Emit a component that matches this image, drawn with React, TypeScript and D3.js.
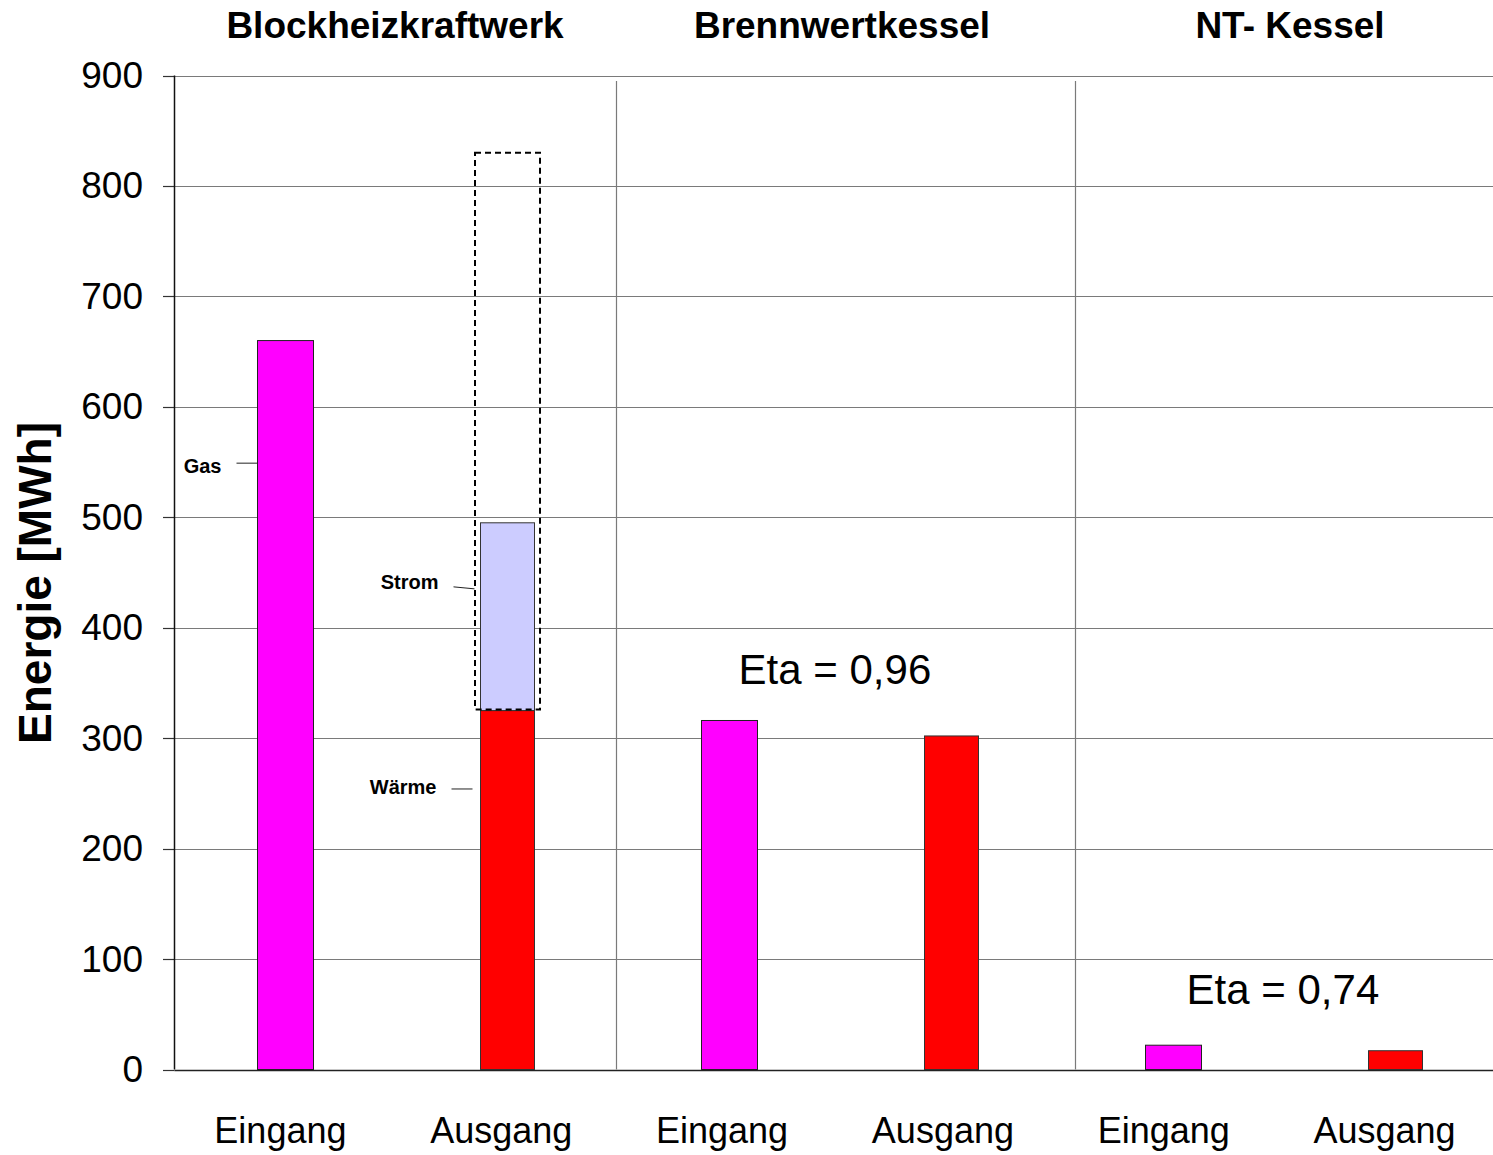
import React from "react";
import * as d3 from "d3";

const categories = ["BHKW Eingang", "BHKW Ausgang", "BWK Eingang", "BWK Ausgang", "NT Eingang", "NT Ausgang"];
const categoryLabels = ["Eingang", "Ausgang", "Eingang", "Ausgang", "Eingang", "Ausgang"];
const groupTitles = ["Blockheizkraftwerk", "Brennwertkessel", "NT- Kessel"];
const waermeValues = [0, 325, 0, 302, 0, 17];
const gasValues = [660, 0, 316, 0, 22, 0];
const stromValues = [0, 170, 0, 0, 0, 0];
const dashedBox = { category: "BHKW Ausgang", from: 326, to: 830 };
const yTicks = [0, 100, 200, 300, 400, 500, 600, 700, 800, 900];
const dividerPositions = [1.99, 4.056]; // in band units
const etaLabels = [
  { text: "Eta = 0,96", pos: 2.975, value: 362 },
  { text: "Eta = 0,74", pos: 4.993, value: 72 },
];
const sideLabels = [
  { text: "Gas", category: "BHKW Eingang", value: 549, textValue: 546 },
  { text: "Strom", category: "BHKW Ausgang", value: 437, textValue: 441 },
  { text: "Wärme", category: "BHKW Ausgang", value: 254, textValue: 256 },
];

const W = 1493;
const H = 1155;
const left = 174.5;
const FONT = "Liberation Sans, Arial, Helvetica, sans-serif";

export default function App() {
  const x = d3.scaleBand<string>().domain(categories).range([left, left + 6 * 222]).padding(0);
  const step = x.step();
  const xc = (c: string) => (x(c) as number) + step / 2;
  const xl = d3.scaleBand<string>().domain(d3.range(6).map(String)).range([170, 1495]);
  const xu = d3.scaleLinear().domain([0, 6]).range([left, left + 6 * 222]);
  const y = d3.scaleLinear().domain([0, 900]).range([1069.5, 75.5]);
  const barW = 56;

  return (
    <svg width={W} height={H} style={{ position: "absolute", left: 0, top: 0, background: "#fff" }} fontFamily={FONT}>
      <rect x={0} y={0} width={W} height={H} fill="#fff" />
      {/* gridlines */}
      {yTicks.map((t) => (
        <g key={t}>
          <line x1={left} x2={W} y1={Math.round(y(t)) + 0.5} y2={Math.round(y(t)) + 0.5} stroke={t === 0 ? "#222" : "#7a7a7a"} strokeWidth={t === 0 ? 1.5 : 1.2} />
          <line x1={163} x2={left} y1={Math.round(y(t)) + 0.5} y2={Math.round(y(t)) + 0.5} stroke="#333" strokeWidth={1.2} />
          <text x={143} y={y(t)} textAnchor="end" dominantBaseline="central" fontSize={37} fill="#000">{t}</text>
        </g>
      ))}
      {/* dividers */}
      {dividerPositions.map((d, i) => (
        <line key={i} x1={Math.round(xu(d)) + 0.5} x2={Math.round(xu(d)) + 0.5} y1={81} y2={y(0)} stroke="#7a7a7a" strokeWidth={1.2} />
      ))}
      {/* y axis */}
      <line x1={left} x2={left} y1={y(900)} y2={y(0)} stroke="#111" strokeWidth={1.5} />
      {/* bars */}
      {categories.map((c, i) => {
        const cx = xc(c);
        const items = [];
        if (gasValues[i] > 0)
          items.push(<rect key="g" x={cx - barW / 2} y={y(gasValues[i])} width={barW} height={y(0) - y(gasValues[i])} fill="#ff00ff" stroke="#222" strokeWidth={1} />);
        if (waermeValues[i] > 0)
          items.push(<rect key="w" x={cx - barW / 2 + 1} y={y(waermeValues[i])} width={barW - 2} height={y(0) - y(waermeValues[i])} fill="#ff0000" stroke="#333" strokeWidth={1} />);
        if (stromValues[i] > 0) {
          const base = waermeValues[i];
          items.push(<rect key="s" x={cx - barW / 2 + 1} y={y(base + stromValues[i])} width={barW - 2} height={y(base) - y(base + stromValues[i])} fill="#ccccff" stroke="#333" strokeWidth={1} />);
        }
        return <g key={c}>{items}</g>;
      })}
      {/* dashed box */}
      <rect x={xc(dashedBox.category) - 32.5} y={y(dashedBox.to)} width={65} height={y(dashedBox.from) - y(dashedBox.to)} fill="none" stroke="#000" strokeWidth={2} strokeDasharray="6,4" />
      {/* side labels */}
      {sideLabels.map((s) => {
        const cx = xc(s.category);
        const lx2 = cx - barW / 2 - (s.text === "Strom" ? 5 : s.text === "Wärme" ? 7 : 0);
        return (
          <g key={s.text}>
            <line x1={lx2 - 21} x2={lx2} y1={y(s.value)} y2={y(s.value) + (s.text === "Strom" ? 2 : 0)} stroke="#222" strokeWidth={1} />
            <text x={lx2 - 36} y={y(s.textValue)} textAnchor="end" dominantBaseline="central" fontSize={20} fontWeight="bold" fill="#000">{s.text}</text>
          </g>
        );
      })}
      {/* eta labels */}
      {etaLabels.map((e) => (
        <text key={e.text} x={xu(e.pos)} y={y(e.value)} textAnchor="middle" dominantBaseline="central" fontSize={42} fill="#000">{e.text}</text>
      ))}
      {/* group titles */}
      {groupTitles.map((g, i) => (
        <text key={g} x={[395, 842, 1290][i]} y={38} textAnchor="middle" fontSize={37} fontWeight="bold" fill="#000">{g}</text>
      ))}
      {/* category labels */}
      {categoryLabels.map((l, i) => (
        <text key={i} x={(xl(String(i)) as number) + xl.bandwidth() / 2} y={1143} textAnchor="middle" fontSize={36} fill="#000">{l}</text>
      ))}
      {/* y title */}
      <text transform={`translate(51, ${583}) rotate(-90)`} textAnchor="middle" fontSize={46} fontWeight="bold" fill="#000">Energie [MWh]</text>
    </svg>
  );
}
